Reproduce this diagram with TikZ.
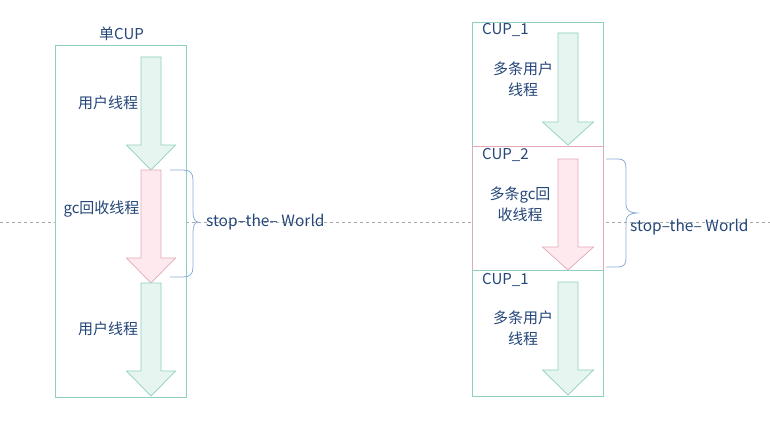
\documentclass[tikz,border=0pt]{standalone}
\usepackage{fontspec}
\setmainfont{Noto Sans CJK SC}
\definecolor{boxg}{HTML}{8FCFC0}
\definecolor{boxp}{HTML}{E2A9B8}
\definecolor{fillg}{HTML}{E6F5F0}
\definecolor{fillp}{HTML}{FDE9EE}
\definecolor{txt}{HTML}{244678}
\definecolor{bracec}{HTML}{8AAED6}
\definecolor{dashc}{HTML}{A8A8A8}
\newcommand{\mydarrow}[6]{%
  \filldraw[#6] ({#1-10},#2) -- ({#1+10},#2) -- ({#1+10},#3) -- ({#1+#5},#3) -- (#1,#4) -- ({#1-#5},#3) -- ({#1-10},#3) -- cycle;}
\begin{document}
\begin{tikzpicture}[x=1pt,y=-1pt,
  gbox/.style={draw=boxg,fill=white,line width=0.9pt,inner sep=0pt},
  pbox/.style={draw=boxp,fill=white,line width=0.9pt,inner sep=0pt},
  garrow/.style={draw=boxg,fill=fillg,line width=0.7pt},
  parrow/.style={draw=boxp,fill=fillp,line width=0.7pt},
  lbl/.style={text=txt,font=\fontsize{15}{21}\selectfont,inner sep=0pt,align=center},
  stw/.style={text=txt,font=\fontsize{15.5}{21}\selectfont,inner sep=0pt,anchor=west},
  bracel/.style={draw=bracec,line width=0.8pt},
  dashl/.style={draw=dashc,dashed,line width=0.6pt}]
\useasboundingbox (0,0) rectangle (770,428);
\coordinate (dl) at (0,222.5);
\coordinate (dr) at (770,222.5);
\draw[dashl] (dl) -- (dr);
% left box
\node[gbox,minimum width=131pt,minimum height=352pt] (L) at (120.5,221) {};
\node[lbl] (Lt) at (121.5,34) {单CUP};
\mydarrow{151}{57}{145}{170}{24.5}{garrow}
\mydarrow{151}{170}{258}{283}{24.5}{parrow}
\mydarrow{151}{283}{371}{396}{24.5}{garrow}
\node[lbl] (L1) at (108,103) {用户线程};
\node[lbl] (L2) at (101.5,209) {gc回收线程};
\node[lbl] (L3) at (108,329) {用户线程};
\draw[bracel] (170,170) -- (183,170) .. controls (190,170) and (193,173) .. (193,180) -- (193,212) .. controls (193,218) and (195,222) .. (198,222) .. controls (195,222) and (193,226) .. (193,232) -- (193,267) .. controls (193,274) and (190,277) .. (183,277) -- (170,277);
\node[stw] (S1) at (206,222) {stop–the– World};
% right boxes
\node[gbox,minimum width=131pt,minimum height=124pt] (R1) at (537.5,84) {};
\node[pbox,minimum width=131pt,minimum height=124pt] (R2) at (537.5,208) {};
\node[gbox,minimum width=131pt,minimum height=126pt] (R3) at (537.5,333) {};
\node[lbl,anchor=west] (R1t) at (482,30) {CUP\_1};
\node[lbl,anchor=west] (R2t) at (482,155) {CUP\_2};
\node[lbl,anchor=west] (R3t) at (482,280) {CUP\_1};
\mydarrow{568}{33}{122}{145}{25.5}{garrow}
\mydarrow{568}{159}{247}{270}{25.5}{parrow}
\mydarrow{568}{282}{370}{395}{25.5}{garrow}
\node[lbl] (R1l) at (523,79) {多条用户\\线程};
\node[lbl] (R2l) at (520,204) {多条gc回\\收线程};
\node[lbl] (R3l) at (523,328) {多条用户\\线程};
\draw[bracel] (606,159) -- (618,159) .. controls (624,159) and (626,162) .. (626,168) -- (626,205) .. controls (626,210) and (630,213) .. (637,213) .. controls (630,213) and (626,216) .. (626,221) -- (626,258) .. controls (626,264) and (624,267) .. (618,267) -- (606,267);
\node[stw] (S2) at (630,227) {stop–the– World};
\end{tikzpicture}
\end{document}
